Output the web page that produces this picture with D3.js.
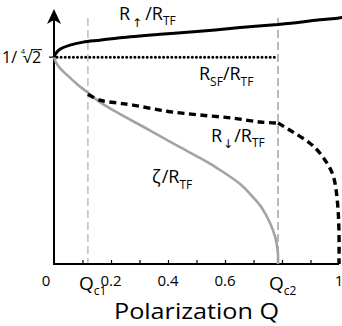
<!DOCTYPE html>
<html>
<head>
<meta charset="utf-8">
<script src="https://cdn.jsdelivr.net/npm/d3@7"></script>
<style>
  html, body { margin: 0; padding: 0; background: #fff; }
  svg { display: block; }
  text { font-family: "Open Sans", "DejaVu Sans", sans-serif; fill: #000; }
</style>
</head>
<body>
<svg id="chart" width="342" height="326"></svg>
<script>
// ---- data ----
const rUpQ   = [0, 0.007, 0.021, 0.056, 0.102, 0.161, 0.232, 0.372, 0.512, 0.653, 0.786, 0.863, 0.933, 1.0, 1.02];
const rUpV   = [0.841, 0.857, 0.873, 0.890, 0.902, 0.910, 0.920, 0.934, 0.946, 0.961, 0.974, 0.983, 0.993, 1.0, 1.005];

const rDownQ = [0.119, 0.161, 0.22, 0.277, 0.396, 0.51, 0.628, 0.723, 0.786, 0.839, 0.898, 0.93, 0.958, 0.976, 0.986, 0.996, 1.0, 1.0];
const rDownV = [0.690, 0.666, 0.655, 0.646, 0.621, 0.606, 0.593, 0.577, 0.573, 0.536, 0.491, 0.455, 0.410, 0.370, 0.329, 0.232, 0.126, 0];

const zetaQ  = [0, 0.007, 0.021, 0.046, 0.081, 0.116, 0.161, 0.232, 0.302, 0.372, 0.442, 0.512, 0.572, 0.653, 0.698, 0.730, 0.758, 0.775, 0.782, 0.786, 0.786];
const zetaV  = [0.841, 0.820, 0.796, 0.768, 0.731, 0.699, 0.658, 0.609, 0.565, 0.520, 0.475, 0.431, 0.390, 0.325, 0.272, 0.227, 0.167, 0.114, 0.077, 0.037, 0];

const rSF = 0.8409;           // 1/2^(1/4)
const Qc  = [0.119, 0.786];   // Qc1, Qc2
const xTickValues = [0.1, 0.2, 0.3, 0.4, 0.5, 0.6, 0.7, 0.8, 0.9, 1.0];
const xTickLabels = [0, 0.2, 0.4, 0.6, 1];

// ---- drawing ----
const svg = d3.select("#chart");
const x = d3.scaleLinear().domain([0, 1]).range([54, 339]);
const y = d3.scaleLinear().domain([0, 1]).range([264, 18]);

const line = d3.line().x(d => x(d[0])).y(d => y(d[1])).curve(d3.curveCatmullRom.alpha(0.5));
const zip = (a, b) => a.map((v, i) => [v, b[i]]);
// path with a kink at breakQ: two smooth pieces sharing the break point
function kinked(qs, vs, breakQ) {
  const pts = zip(qs, vs);
  const k = qs.indexOf(breakQ);
  if (k < 0) return line(pts);
  return line(pts.slice(0, k + 1)) + line(pts.slice(k));
}

// vertical dashed lines at Qc1, Qc2
svg.selectAll("line.qc").data(Qc).enter().append("line")
  .attr("class", "qc")
  .attr("x1", d => x(d)).attr("x2", d => x(d))
  .attr("y1", y(1)).attr("y2", y(0))
  .attr("stroke", "#a8a8a8").attr("stroke-width", (d, i) => i ? 1.6 : 1.1)
  .attr("stroke-dasharray", "8,4");

// x axis
const xAxis = d3.axisBottom(x).tickValues(xTickValues).tickSize(-4).tickFormat("");
const gx = svg.append("g").attr("transform", `translate(0,${y(0)})`).call(xAxis);
gx.select(".domain").attr("stroke", "#000").attr("stroke-width", 2).attr("d", `M${x(0)},0H${x(1)}`);
gx.selectAll(".tick line").attr("stroke", "#000").attr("stroke-width", 1.2);

// x tick labels
svg.selectAll("text.xt").data(xTickLabels).enter().append("text")
  .attr("class", "xt")
  .attr("x", d => x(d) + (d === 0 ? -8 : 0))
  .attr("y", 286)
  .attr("text-anchor", "middle")
  .attr("font-size", 15)
  .text(d => d === 0 ? "0" : d === 1 ? "1" : d3.format(".1f")(d));

// Qc labels
Qc.forEach((q, i) => {
  const t = svg.append("text").attr("x", x(q) - 9).attr("y", 290).attr("font-size", 19);
  t.append("tspan").text("Q");
  t.append("tspan").attr("font-size", 12).attr("dy", 5).attr("dx", 0).text(i ? "c2" : "c1");
});

// axis title
svg.append("text").attr("x", x(0.5)).attr("y", 319).attr("text-anchor", "middle")
  .attr("font-size", 22).attr("textLength", 165).attr("lengthAdjust", "spacingAndGlyphs")
  .text("Polarization Q");

// y axis with arrow
svg.append("line").attr("x1", x(0)).attr("x2", x(0)).attr("y1", y(0) + 1).attr("y2", 20)
  .attr("stroke", "#000").attr("stroke-width", 2);
svg.append("path")
  .attr("d", `M${x(0)},9 L${x(0) + 7},24 L${x(0)},20 L${x(0) - 7},24 Z`)
  .attr("fill", "#000");

// y tick at 1/2^(1/4)
svg.append("line").attr("x1", x(0) - 5).attr("x2", x(0)).attr("y1", y(rSF)).attr("y2", y(rSF))
  .attr("stroke", "#000").attr("stroke-width", 1.2);

// y tick label 1/⁴√2
const yl = y(rSF) + 6;
svg.append("text").attr("x", 2).attr("y", yl).attr("font-size", 16).text("1/");
svg.append("text").attr("x", 21).attr("y", yl - 9).attr("font-size", 7).text("4");
svg.append("text").attr("x", 23).attr("y", yl).attr("font-size", 16).text("\u221A");
svg.append("text").attr("x", 32).attr("y", yl).attr("font-size", 16).text("2");
svg.append("line").attr("x1", 31).attr("x2", 42).attr("y1", yl - 13.5).attr("y2", yl - 13.5)
  .attr("stroke", "#000").attr("stroke-width", 1);

// curves
svg.append("path").datum(zip(zetaQ, zetaV)).attr("d", line)
  .attr("fill", "none").attr("stroke", "#a3a3a3").attr("stroke-width", 2.6);

svg.append("line").attr("x1", x(0) + 3).attr("x2", x(Qc[1])).attr("y1", y(rSF)).attr("y2", y(rSF))
  .attr("stroke", "#000").attr("stroke-width", 3).attr("stroke-linecap", "round")
  .attr("stroke-dasharray", "0,4.1");

svg.append("path").attr("d", kinked(rDownQ, rDownV, Qc[1]))
  .attr("fill", "none").attr("stroke", "#000").attr("stroke-width", 3.4)
  .attr("stroke-dasharray", "7,4.5");

svg.append("path").attr("d", kinked(rUpQ, rUpV, Qc[1]))
  .attr("fill", "none").attr("stroke", "#000").attr("stroke-width", 3);

// curve labels
function lab(x0, y0, parts) {
  const t = svg.append("text").attr("x", x0).attr("y", y0).attr("font-size", 18);
  parts.forEach(p => {
    const s = t.append("tspan").text(p.t);
    if (p.fs) s.attr("font-size", p.fs);
    if (p.dy) s.attr("dy", p.dy);
    if (p.dx) s.attr("dx", p.dx);
  });
}
lab(119, 20, [{t: "R"}, {t: "\u2191", fs: 12, dy: 7, dx: 2}, {t: "/R", dy: -7, dx: 3}, {t: "TF", fs: 12, dy: 5}]);
lab(199, 80, [{t: "R"}, {t: "SF", fs: 12, dy: 6}, {t: "/R", dy: -6}, {t: "TF", fs: 12, dy: 6}]);
lab(211, 142, [{t: "R"}, {t: "\u2193", fs: 12, dy: 6, dx: 1}, {t: "/R", dy: -6, dx: 1}, {t: "TF", fs: 12, dy: 5}]);
lab(152, 183, [{t: "\u03B6"}, {t: "/R", dx: 1}, {t: "TF", fs: 12, dy: 6}]);
</script>
</body>
</html>
